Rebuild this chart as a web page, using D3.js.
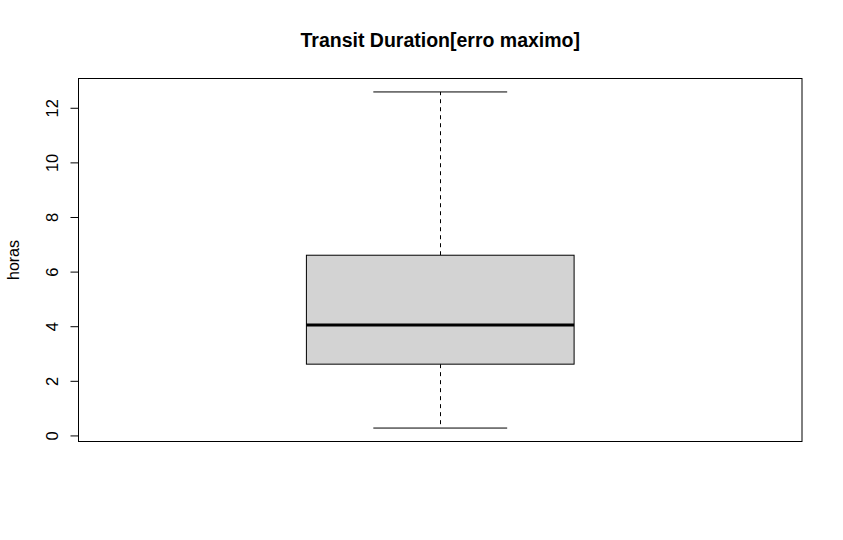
<!DOCTYPE html>
<html><head><meta charset="utf-8">
<script src="https://cdn.jsdelivr.net/npm/d3@7"></script>
<style>body{margin:0;background:#fff}svg{display:block}text{font-family:"Liberation Sans",Arial,sans-serif}</style>
</head><body>
<svg id="c" width="843" height="540"></svg>
<script>
const title = "Transit Duration[erro maximo]";
const yLabel = "horas";
const yTicks = [0, 2, 4, 6, 8, 10, 12];
const stats = {min: 0.27, q1: 2.61, median: 4.04, q3: 6.60, max: 12.58};

const svg = d3.select("#c");
const plot = {left: 78.5, right: 802, top: 78.5, bottom: 441.5};
const pad = (stats.max - stats.min) * 0.04;
const y = d3.scaleLinear().domain([stats.min - pad, stats.max + pad]).range([plot.bottom, plot.top]);
const x = d3.scaleLinear().domain([0.5, 1.5]).range([plot.left, plot.right]);

const cx = x(1);
const boxHalf = x(1.185) - x(1);
const capHalf = boxHalf / 2;
const wx = Math.round(cx) + 0.5;
const g = svg.append("g").attr("stroke", "#000").attr("fill", "none");
g.append("line").attr("x1", wx).attr("x2", wx).attr("y1", y(stats.q3)).attr("y2", y(stats.max)).attr("stroke-dasharray", "4,4");
g.append("line").attr("x1", wx).attr("x2", wx).attr("y1", y(stats.q1)).attr("y2", y(stats.min)).attr("stroke-dasharray", "4,4");
g.append("line").attr("x1", cx - capHalf).attr("x2", cx + capHalf).attr("y1", y(stats.max)).attr("y2", y(stats.max));
g.append("line").attr("x1", cx - capHalf).attr("x2", cx + capHalf).attr("y1", y(stats.min)).attr("y2", y(stats.min));
g.append("rect").attr("x", cx - boxHalf).attr("width", 2 * boxHalf).attr("y", y(stats.q3)).attr("height", y(stats.q1) - y(stats.q3)).attr("fill", "#d3d3d3");
g.append("line").attr("x1", cx - boxHalf).attr("x2", cx + boxHalf).attr("y1", y(stats.median)).attr("y2", y(stats.median)).attr("stroke-width", 3);

svg.append("rect").attr("x", plot.left).attr("y", plot.top).attr("width", plot.right - plot.left).attr("height", plot.bottom - plot.top).attr("fill", "none").attr("stroke", "#000");

const ax = svg.append("g").attr("transform", `translate(${plot.left},0)`)
  .call(d3.axisLeft(y).tickValues(yTicks).tickSize(8).tickSizeOuter(0).tickFormat(d3.format("d")));
ax.select(".domain").remove();
ax.selectAll(".tick line").attr("stroke", "#000");
ax.selectAll(".tick text").attr("x", null).attr("dy", null)
  .attr("transform", "translate(-21,0) rotate(-90)")
  .attr("text-anchor", "middle").attr("fill", "#000")
  .style("font-size", "16.5px")
  .style("font-family", '"Liberation Sans",Arial,sans-serif');

svg.append("text").attr("transform", `translate(18.5,${(plot.top + plot.bottom) / 2}) rotate(-90)`)
  .attr("text-anchor", "middle").style("font-size", "16px").text(yLabel);
svg.append("text").attr("x", (plot.left + plot.right) / 2).attr("y", 46.5)
  .attr("text-anchor", "middle").style("font-size", "19.5px").attr("font-weight", "bold").text(title);
</script>
</body></html>
